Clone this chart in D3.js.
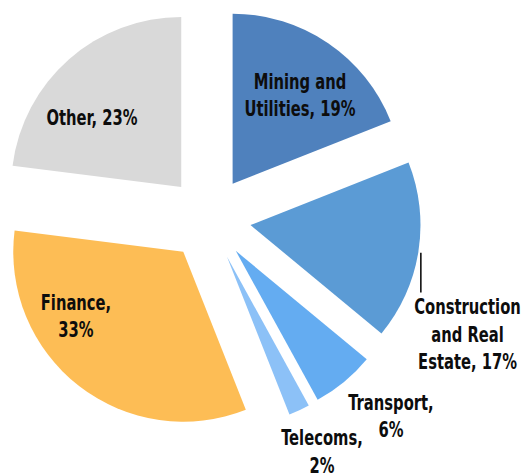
<!DOCTYPE html>
<html>
<head>
<meta charset="utf-8">
<script src="https://cdn.jsdelivr.net/npm/d3@7"></script>
<style>
  body { margin: 0; background: #fff; }
  text { font-family: "Liberation Sans Narrow", "Arial Narrow", "DejaVu Sans Condensed", "DejaVu Sans", sans-serif; font-weight: bold; }
</style>
</head>
<body>
<div id="chart"></div>
<script>
// data
var sectors = ["Mining and Utilities", "Construction and Real Estate", "Transport", "Telecoms", "Finance", "Other"];
var shares = [19, 17, 6, 2, 33, 23];
var labelLines = [
    ["Mining and", "Utilities, 19%"],
    ["Construction", "and Real", "Estate, 17%"],
    ["Transport,", "6%"],
    ["Telecoms,", "2%"],
    ["Finance,", "33%"],
    ["Other, 23%"]
];

// styling / layout
var colors = ["#4f81bd", "#5b9bd5", "#64acf1", "#8cc1f7", "#fdbd55", "#d9d9d9"];
// label block centres, relative to pie centre
var labelOffset = [[91, -123.5], [258.5, 115.5], [182, 197.5], [113, 233], [-133, 97.5], [-117, -101.5]];

var width = 523, height = 474,
    cx = 209, cy = 218.5,
    radius = 170, explode = 42, lineH = 27.5,
    squeeze = 0.8; // no narrow font installed, so squash the text

var svg = d3.select("#chart")
    .append("svg")
    .attr("width", width)
    .attr("height", height)
    .append("g")
    .attr("transform", "translate(" + cx + "," + cy + ")");

var pie = d3.pie().sort(null).value(function(d) { return d; });
var arcs = pie(shares);

var arc = d3.arc().innerRadius(0).outerRadius(radius);

function shift(d) {
    var a = (d.startAngle + d.endAngle) / 2;
    return [Math.sin(a) * explode, -Math.cos(a) * explode];
}

svg.selectAll("path.slice")
    .data(arcs)
    .enter()
    .append("path")
    .attr("class", "slice")
    .attr("fill", function(d, i) { return colors[i]; })
    .attr("transform", function(d) { var s = shift(d); return "translate(" + s[0] + "," + s[1] + ")"; })
    .attr("d", arc);

// leader line for construction label
var con = arcs[1], conA = (con.startAngle + con.endAngle) / 2, conS = shift(con);
var lx = conS[0] + Math.sin(conA) * (radius + 2.5);
svg.append("line")
    .attr("x1", lx).attr("x2", lx)
    .attr("y1", conS[1] - Math.cos(conA) * radius + 1)
    .attr("y2", labelOffset[1][1] - lineH - 14)
    .attr("stroke", "#000")
    .attr("stroke-width", 1.5);

// labels
var labels = svg.selectAll("text.lbl")
    .data(arcs)
    .enter()
    .append("text")
    .attr("class", "lbl")
    .attr("text-anchor", "middle")
    .attr("font-size", 20.5)
    .attr("fill", "#0d0d0d")
    .attr("transform", function(d, i) {
        return "translate(" + labelOffset[i][0] + "," + labelOffset[i][1] + ") scale(" + squeeze + ",1)";
    });

labels.each(function(d, i) {
    var lines = labelLines[i], n = lines.length;
    var t = d3.select(this);
    lines.forEach(function(s, k) {
        t.append("tspan")
            .attr("x", 0)
            .attr("y", (k - (n - 1) / 2) * lineH + 7.5)
            .text(s);
    });
});
</script>
</body>
</html>
